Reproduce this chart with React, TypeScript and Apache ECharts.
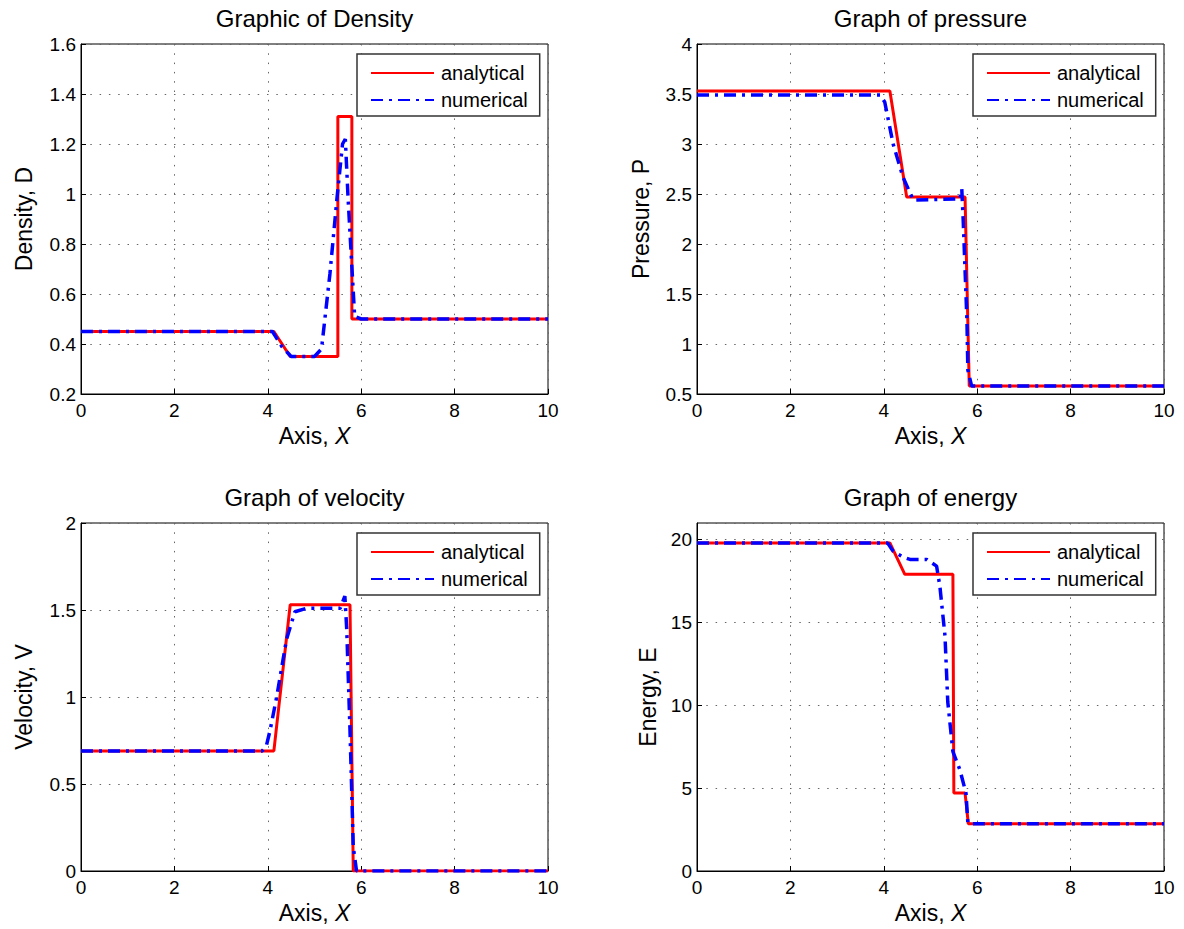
import React, { useEffect, useRef } from "react";
import * as echarts from "echarts";

// Density
const densAnaX = [0, 4.13, 4.48, 5.5, 5.5, 5.8, 5.8, 10];
const densAnaY = [0.45, 0.45, 0.35, 0.35, 1.31, 1.31, 0.5, 0.5];
const densNumX = [0, 4.1, 4.3, 4.5, 5.0, 5.15, 5.33, 5.48, 5.6, 5.66, 5.72, 5.8, 5.86, 6, 10];
const densNumY = [0.45, 0.45, 0.39, 0.35, 0.35, 0.38, 0.68, 0.98, 1.2, 1.22, 0.98, 0.71, 0.51, 0.5, 0.5];

// Pressure
const presAnaX = [0, 4.13, 4.49, 5.74, 5.83, 10];
const presAnaY = [3.53, 3.53, 2.47, 2.47, 0.58, 0.58];
const presNumX = [0, 3.92, 4.02, 4.2, 4.41, 4.63, 5.63, 5.67, 5.7, 5.74, 5.78, 5.8, 5.88, 10];
const presNumY = [3.49, 3.49, 3.42, 3.0, 2.67, 2.44, 2.45, 2.55, 2.24, 1.74, 1.24, 0.74, 0.58, 0.58];

// Velocity
const veloAnaX = [0, 4.13, 4.48, 5.76, 5.83, 10];
const veloAnaY = [0.69, 0.69, 1.53, 1.53, 0, 0];
const veloNumX = [0, 3.88, 3.97, 4.05, 4.19, 4.4, 4.58, 4.83, 5.55, 5.65, 5.69, 5.76, 5.83, 5.9, 10];
const veloNumY = [0.69, 0.69, 0.72, 0.81, 1.0, 1.33, 1.49, 1.51, 1.51, 1.58, 1.39, 0.81, 0.14, 0, 0];

// Energy
const enerAnaX = [0, 4.13, 4.45, 5.48, 5.5, 5.74, 5.81, 10];
const enerAnaY = [19.8, 19.8, 17.9, 17.9, 4.7, 4.7, 2.85, 2.85];
const enerNumX = [0, 4.08, 4.2, 4.41, 4.56, 4.92, 5.13, 5.2, 5.31, 5.37, 5.48, 5.63, 5.76, 5.8, 5.9, 10];
const enerNumY = [19.8, 19.8, 19.3, 18.95, 18.8, 18.8, 18.4, 17.2, 14.2, 10.2, 7.2, 6.1, 4.7, 2.9, 2.85, 2.85];

const titles = ["Graphic of Density", "Graph of pressure", "Graph of velocity", "Graph of energy"];
const yNames = ["Density, D", "Pressure, P", "Velocity, V", "Energy, E"];
const yMins = [0.2, 0.5, 0, 0];
const yMaxs = [1.6, 4, 2, 21];
const yIntervals = [0.2, 0.5, 0.5, 5];
const xTicks = { min: 0, max: 10, interval: 2 };
const seriesNames = ["analytical", "numerical"];

const zip = (xs: number[], ys: number[]) => xs.map((x, i) => [x, ys[i]]);

const anaData = [
  zip(densAnaX, densAnaY),
  zip(presAnaX, presAnaY),
  zip(veloAnaX, veloAnaY),
  zip(enerAnaX, enerAnaY),
];
const numData = [
  zip(densNumX, densNumY),
  zip(presNumX, presNumY),
  zip(veloNumX, veloNumY),
  zip(enerNumX, enerNumY),
];

const FONT = "Liberation Sans, Arial, Helvetica, sans-serif";

const grids = [
  { left: 81, top: 44, width: 467, height: 350 },
  { left: 697, top: 44, width: 467, height: 350 },
  { left: 81, top: 523, width: 467, height: 348 },
  { left: 697, top: 523, width: 467, height: 348 },
];
const yNameGaps = [46, 45, 46, 38];

export default function App() {
  const ref = useRef<HTMLDivElement>(null);
  useEffect(() => {
    if (!ref.current) return;
    const chart = echarts.init(ref.current, undefined, { renderer: "svg" });
    const option: any = {
      animation: false,
      backgroundColor: "#fff",
      textStyle: { fontFamily: FONT },
      title: grids.map((g, i) => ({
        text: titles[i],
        left: g.left + g.width / 2,
        top: g.top - 38,
        textAlign: "center",
        padding: 0,
        textStyle: { fontFamily: FONT, fontSize: 24, fontWeight: "normal", color: "#000" },
      })),
      grid: grids.map((g) => ({
        ...g,
        show: true,
        borderColor: "#000",
        borderWidth: 1,
        backgroundColor: "#fff",
      })),
      legend: grids.map((g) => ({
        data: seriesNames,
        left: g.left + g.width - 191,
        top: g.top + 10,
        orient: "vertical",
        backgroundColor: "#fff",
        borderColor: "#333",
        borderWidth: 1.5,
        borderRadius: 0,
        padding: [9, 12, 6, 13],
        itemGap: 7,
        itemWidth: 63,
        itemHeight: 18,
        itemStyle: { opacity: 0 },
        textStyle: { fontFamily: FONT, fontSize: 20, color: "#000", padding: [0, 0, 0, 2] },
        selectedMode: false,
      })),
      xAxis: grids.map((g, i) => ({
        type: "value",
        gridIndex: i,
        min: xTicks.min,
        max: xTicks.max,
        interval: xTicks.interval,
        name: "{n|Axis, }{i|X}",
        nameLocation: "middle",
        nameGap: 30,
        nameTextStyle: {
          rich: {
            n: { fontFamily: FONT, fontSize: 23, color: "#000" },
            i: { fontFamily: FONT, fontSize: 23, color: "#000", fontStyle: "italic" },
          },
        },
        axisLine: { show: true, onZero: false, lineStyle: { color: "#000" } },
        axisTick: { show: true, inside: true, length: 5, lineStyle: { color: "#000" } },
        axisLabel: { fontFamily: FONT, fontSize: 19, color: "#000", margin: 7 },
        splitLine: { show: true, lineStyle: { color: "#666", type: [1.5, 7.8], width: 1 } },
      })),
      yAxis: grids.map((g, i) => ({
        type: "value",
        gridIndex: i,
        min: yMins[i],
        max: yMaxs[i],
        interval: yIntervals[i],
        name: yNames[i],
        nameLocation: "middle",
        nameGap: yNameGaps[i],
        nameTextStyle: { fontFamily: FONT, fontSize: 23, color: "#000" },
        axisLine: { show: true, onZero: false, lineStyle: { color: "#000" } },
        axisTick: { show: true, inside: true, length: 5, lineStyle: { color: "#000" } },
        axisLabel: { fontFamily: FONT, fontSize: 19, color: "#000", margin: 5, showMaxLabel: i !== 3 },
        splitLine: { show: true, lineStyle: { color: "#666", type: [1.5, 7.8], width: 1 } },
      })),
      series: [
        ...anaData.map((d, i) => ({
          type: "line",
          name: "analytical",
          xAxisIndex: i,
          yAxisIndex: i,
          data: d,
          symbol: "none",
          lineStyle: { color: "#ff0000", width: 3 },
          itemStyle: { color: "#ff0000" },
          z: 2,
        })),
        ...numData.map((d, i) => ({
          type: "line",
          name: "numerical",
          xAxisIndex: i,
          yAxisIndex: i,
          data: d,
          symbol: "none",
          lineStyle: { color: "#0000ff", width: 3.5, type: [12, 6, 3, 6] },
          itemStyle: { color: "#0000ff" },
          z: 3,
        })),
      ],
    };
    chart.setOption(option);
    return () => chart.dispose();
  }, []);
  return (
    <div
      ref={ref}
      style={{ position: "fixed", left: 0, top: 0, width: 1184, height: 929, background: "#fff" }}
    />
  );
}
